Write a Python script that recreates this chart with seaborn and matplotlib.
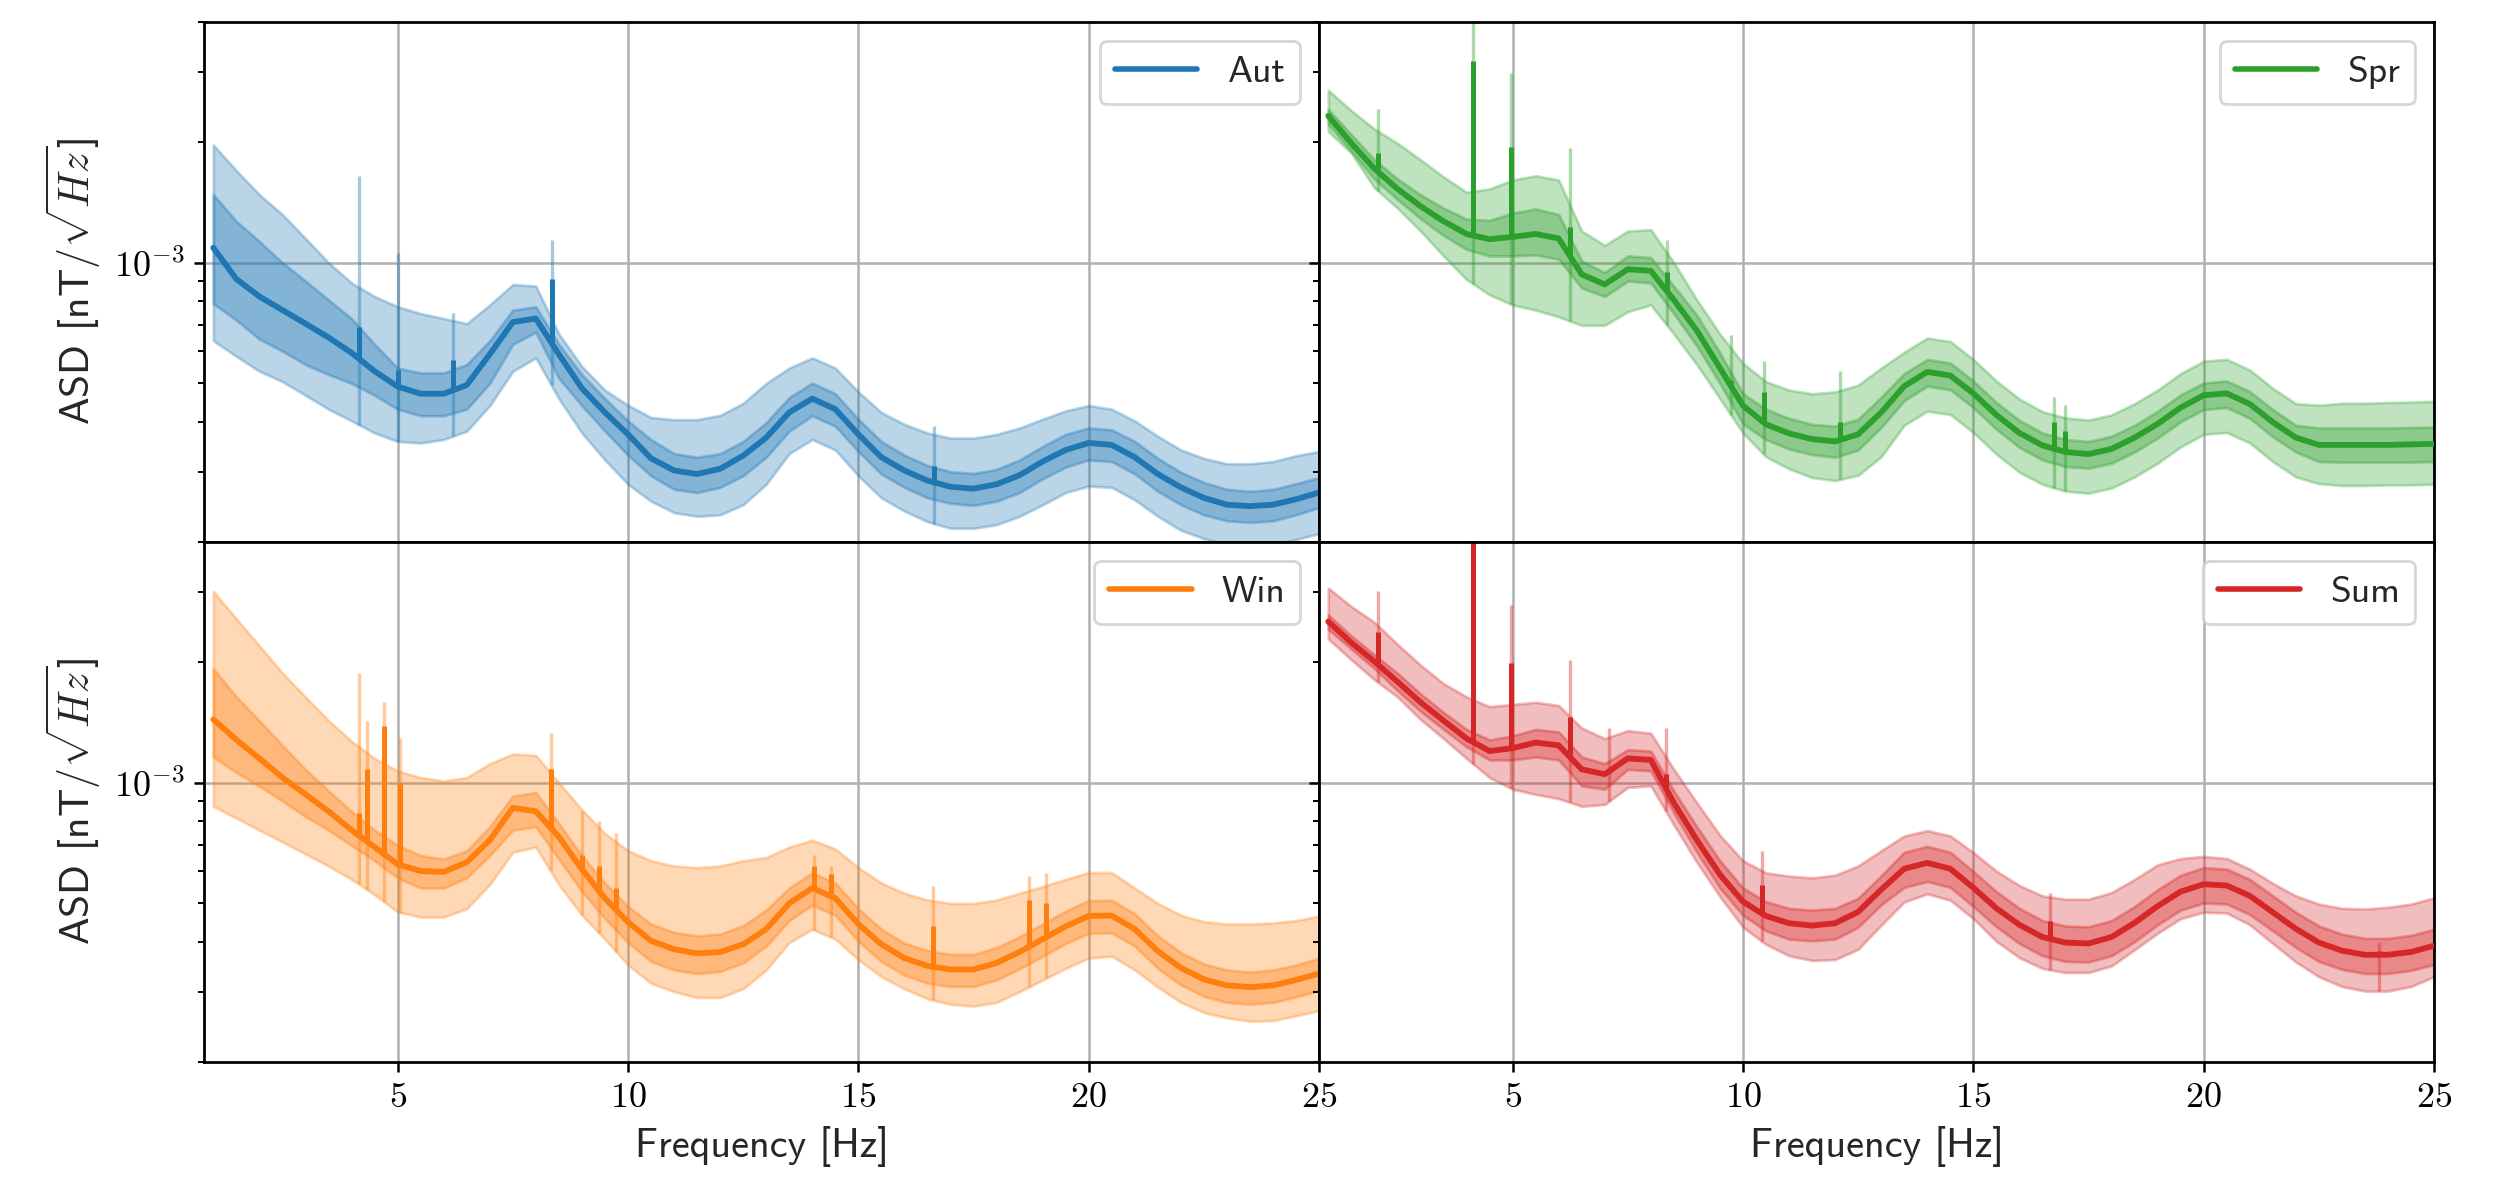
import numpy as np
import matplotlib
matplotlib.use("Agg")
import matplotlib.pyplot as plt
import seaborn as sns
from matplotlib.ticker import FixedLocator, LogLocator, NullFormatter, FuncFormatter

# ---------------- data (ASD values in units of 1e-3 nT/sqrt(Hz)) ----------------
UNIT = 1e-3
FREQ = [1.0, 1.5, 2.0, 2.5, 3.0, 3.5, 4.0, 4.5, 5.0,
        5.5, 6.0, 6.5, 7.0, 7.5, 8.0, 8.5, 9.0, 9.5, 10.0,
        10.5, 11.0, 11.5, 12.0, 12.5, 13.0, 13.5, 14.0, 14.5, 15.0,
        15.5, 16.0, 16.5, 17.0, 17.5, 18.0, 18.5, 19.0, 19.5, 20.0,
        20.5, 21.0, 21.5, 22.0, 22.5, 23.0, 23.5, 24.0, 24.5, 25.0]

# Autumn
AUT_MED = [1.09, 0.91, 0.823, 0.761, 0.704, 0.65, 0.595, 0.535, 0.49,
           0.47, 0.47, 0.494, 0.59, 0.71, 0.725, 0.59, 0.485, 0.422, 0.372,
           0.324, 0.302, 0.296, 0.305, 0.329, 0.365, 0.422, 0.457, 0.43, 0.372,
           0.326, 0.302, 0.285, 0.275, 0.272, 0.279, 0.294, 0.318, 0.34, 0.354,
           0.35, 0.326, 0.296, 0.274, 0.258, 0.248, 0.246, 0.248, 0.256, 0.266]
AUT_IU = [1.48, 1.27, 1.13, 1.0, 0.90, 0.807, 0.725, 0.625, 0.545,
          0.53, 0.53, 0.556, 0.638, 0.761, 0.776, 0.625, 0.525, 0.457, 0.402,
          0.361, 0.333, 0.326, 0.333, 0.357, 0.398, 0.46, 0.50, 0.47, 0.406,
          0.357, 0.33, 0.311, 0.30, 0.297, 0.304, 0.321, 0.347, 0.372, 0.386,
          0.382, 0.357, 0.324, 0.299, 0.282, 0.271, 0.268, 0.271, 0.28, 0.29]
AUT_IL = [0.79, 0.718, 0.644, 0.601, 0.556, 0.525, 0.499, 0.466, 0.43,
          0.414, 0.414, 0.43, 0.499, 0.625, 0.67, 0.514, 0.439, 0.379, 0.33,
          0.293, 0.271, 0.266, 0.274, 0.293, 0.326, 0.379, 0.414, 0.39, 0.337,
          0.296, 0.274, 0.258, 0.25, 0.247, 0.253, 0.266, 0.288, 0.308, 0.321,
          0.318, 0.296, 0.268, 0.248, 0.234, 0.226, 0.224, 0.226, 0.234, 0.244]
AUT_OU = [1.97, 1.70, 1.48, 1.32, 1.15, 1.0, 0.89, 0.823, 0.776,
          0.746, 0.725, 0.704, 0.784, 0.882, 0.874, 0.663, 0.55, 0.48, 0.44,
          0.41, 0.405, 0.405, 0.415, 0.445, 0.499, 0.545, 0.578, 0.545, 0.475,
          0.422, 0.394, 0.375, 0.364, 0.364, 0.372, 0.386, 0.406, 0.426, 0.439,
          0.43, 0.402, 0.368, 0.34, 0.324, 0.314, 0.314, 0.318, 0.329, 0.337]
AUT_OL = [0.638, 0.583, 0.535, 0.504, 0.466, 0.43, 0.402, 0.375, 0.357,
          0.354, 0.361, 0.379, 0.439, 0.535, 0.578, 0.457, 0.375, 0.321, 0.279,
          0.253, 0.237, 0.232, 0.234, 0.248, 0.279, 0.333, 0.361, 0.34, 0.293,
          0.258, 0.239, 0.225, 0.2165, 0.2165, 0.221, 0.232, 0.248, 0.266, 0.276,
          0.274, 0.255, 0.232, 0.214, 0.204, 0.197, 0.195, 0.197, 0.203, 0.21]
AUT_SPIKE_F = [4.16, 5.0, 6.2, 8.35, 16.65]
AUT_SPIKE_MED = [0.69, 0.54, 0.57, 0.908, 0.31]
AUT_SPIKE_BAND = [1.65, 1.06, 0.75, 1.14, 0.39]

# Spring
SPR_MED = [2.33, 1.99, 1.72, 1.53, 1.385, 1.27, 1.18, 1.145, 1.16,
           1.18, 1.15, 0.935, 0.882, 0.963, 0.954, 0.807, 0.676, 0.545, 0.439,
           0.394, 0.374, 0.362, 0.357, 0.372, 0.422, 0.491, 0.533, 0.522, 0.471,
           0.416, 0.375, 0.349, 0.336, 0.332, 0.342, 0.365, 0.395, 0.434, 0.466,
           0.471, 0.443, 0.399, 0.365, 0.35, 0.35, 0.35, 0.35, 0.351, 0.352]
SPR_IU = [2.42, 2.09, 1.81, 1.62, 1.48, 1.37, 1.285, 1.276, 1.33,
          1.364, 1.32, 1.01, 0.945, 1.04, 1.03, 0.873, 0.739, 0.595, 0.47,
          0.43, 0.408, 0.394, 0.39, 0.406, 0.461, 0.528, 0.573, 0.561, 0.506,
          0.447, 0.403, 0.375, 0.361, 0.357, 0.368, 0.392, 0.425, 0.467, 0.50,
          0.506, 0.476, 0.429, 0.392, 0.386, 0.386, 0.386, 0.386, 0.387, 0.388]
SPR_IL = [2.22, 1.90, 1.62, 1.44, 1.29, 1.17, 1.08, 1.04, 1.04,
          1.046, 1.02, 0.865, 0.823, 0.90, 0.89, 0.746, 0.619, 0.499, 0.395,
          0.361, 0.342, 0.331, 0.326, 0.34, 0.387, 0.452, 0.491, 0.481, 0.434,
          0.383, 0.345, 0.321, 0.309, 0.306, 0.315, 0.336, 0.364, 0.40, 0.429,
          0.434, 0.408, 0.367, 0.336, 0.318, 0.317, 0.317, 0.317, 0.317, 0.318]
SPR_OU = [2.70, 2.40, 2.16, 1.99, 1.81, 1.64, 1.50, 1.53, 1.61,
          1.65, 1.61, 1.20, 1.105, 1.20, 1.21, 1.0, 0.807, 0.663, 0.56,
          0.504, 0.48, 0.47, 0.475, 0.494, 0.545, 0.597, 0.648, 0.635, 0.573,
          0.506, 0.456, 0.424, 0.409, 0.404, 0.416, 0.444, 0.48, 0.528, 0.567,
          0.573, 0.539, 0.485, 0.444, 0.44, 0.445, 0.445, 0.447, 0.448, 0.45]
SPR_OL = [2.13, 1.88, 1.54, 1.37, 1.20, 1.04, 0.908, 0.831, 0.784,
          0.761, 0.732, 0.697, 0.697, 0.754, 0.784, 0.663, 0.556, 0.457, 0.375,
          0.327, 0.305, 0.29, 0.285, 0.294, 0.327, 0.392, 0.425, 0.417, 0.376,
          0.332, 0.299, 0.279, 0.268, 0.265, 0.273, 0.291, 0.315, 0.346, 0.372,
          0.376, 0.354, 0.318, 0.291, 0.28, 0.277, 0.277, 0.278, 0.278, 0.279]
SPR_SPIKE_F = [2.08, 4.15, 4.97, 6.24, 8.35, 9.75, 10.45, 12.1, 16.75, 17.0]
SPR_SPIKE_MED = [1.88, 3.19, 1.95, 1.23, 0.95, 0.51, 0.475, 0.40, 0.40, 0.38]
SPR_SPIKE_BAND = [2.42, 4.5, 2.98, 1.94, 1.14, 0.66, 0.567, 0.535, 0.46, 0.44]

# Winter
WIN_MED = [1.44, 1.28, 1.15, 1.03, 0.935, 0.848, 0.761, 0.69, 0.625,
           0.601, 0.598, 0.632, 0.718, 0.865, 0.848, 0.732, 0.607, 0.514, 0.448,
           0.402, 0.383, 0.374, 0.377, 0.394, 0.43, 0.499, 0.545, 0.514, 0.443,
           0.394, 0.364, 0.348, 0.341, 0.341, 0.354, 0.377, 0.406, 0.437, 0.464,
           0.465, 0.43, 0.379, 0.344, 0.322, 0.311, 0.308, 0.311, 0.321, 0.333]
WIN_IU = [1.93, 1.64, 1.43, 1.24, 1.08, 0.954, 0.848, 0.761, 0.697,
          0.657, 0.644, 0.676, 0.776, 0.926, 0.945, 0.79, 0.657, 0.561, 0.49,
          0.443, 0.422, 0.414, 0.418, 0.439, 0.48, 0.545, 0.595, 0.561, 0.484,
          0.43, 0.397, 0.38, 0.372, 0.372, 0.387, 0.412, 0.443, 0.477, 0.507,
          0.508, 0.47, 0.414, 0.376, 0.352, 0.34, 0.336, 0.34, 0.35, 0.364]
WIN_IL = [1.16, 1.06, 0.98, 0.90, 0.823, 0.761, 0.697, 0.638, 0.578,
          0.545, 0.545, 0.578, 0.657, 0.761, 0.776, 0.644, 0.535, 0.457, 0.398,
          0.357, 0.34, 0.333, 0.337, 0.354, 0.39, 0.452, 0.494, 0.466, 0.401,
          0.357, 0.33, 0.315, 0.309, 0.309, 0.321, 0.342, 0.368, 0.396, 0.42,
          0.421, 0.39, 0.343, 0.312, 0.292, 0.282, 0.279, 0.282, 0.291, 0.302]
WIN_OU = [3.01, 2.57, 2.20, 1.88, 1.64, 1.43, 1.27, 1.15, 1.07,
          1.03, 1.01, 1.03, 1.116, 1.18, 1.17, 1.0, 0.856, 0.746, 0.676,
          0.638, 0.619, 0.613, 0.619, 0.638, 0.65, 0.69, 0.718, 0.683, 0.613,
          0.561, 0.529, 0.509, 0.499, 0.499, 0.509, 0.529, 0.55, 0.573, 0.596,
          0.596, 0.545, 0.499, 0.466, 0.449, 0.443, 0.443, 0.446, 0.452, 0.464]
WIN_OL = [0.873, 0.815, 0.761, 0.711, 0.663, 0.619, 0.573, 0.525, 0.475,
          0.461, 0.461, 0.484, 0.556, 0.67, 0.69, 0.556, 0.466, 0.406, 0.35,
          0.315, 0.30, 0.29, 0.29, 0.305, 0.34, 0.398, 0.43, 0.406, 0.361,
          0.327, 0.305, 0.288, 0.279, 0.276, 0.282, 0.30, 0.321, 0.343, 0.364,
          0.368, 0.34, 0.308, 0.282, 0.266, 0.258, 0.253, 0.254, 0.261, 0.269]
WIN_SPIKE_F = [4.16, 4.34, 4.71, 5.06, 8.32, 9.0, 9.38, 9.75, 14.03, 14.4, 16.63, 18.7, 19.07]
WIN_SPIKE_MED = [0.84, 1.08, 1.39, 1.0, 1.08, 0.66, 0.62, 0.545, 0.62, 0.59, 0.439, 0.51, 0.50]
WIN_SPIKE_BAND = [1.88, 1.43, 1.59, 1.29, 1.33, 0.85, 0.80, 0.75, 0.66, 0.62, 0.55, 0.584, 0.596]

# Summer
SUM_MED = [2.53, 2.24, 2.01, 1.79, 1.59, 1.43, 1.29, 1.20, 1.22,
           1.26, 1.24, 1.08, 1.05, 1.15, 1.14, 0.89, 0.718, 0.589, 0.504,
           0.464, 0.445, 0.439, 0.445, 0.475, 0.54, 0.609, 0.63, 0.609, 0.546,
           0.485, 0.441, 0.411, 0.398, 0.396, 0.411, 0.446, 0.491, 0.534, 0.557,
           0.553, 0.521, 0.474, 0.431, 0.398, 0.38, 0.371, 0.371, 0.377, 0.391]
SUM_IU = [2.63, 2.33, 2.09, 1.88, 1.67, 1.50, 1.36, 1.28, 1.31,
          1.36, 1.34, 1.16, 1.116, 1.21, 1.20, 0.954, 0.776, 0.638, 0.545,
          0.504, 0.485, 0.48, 0.485, 0.514, 0.585, 0.67, 0.693, 0.67, 0.60,
          0.534, 0.485, 0.452, 0.438, 0.436, 0.452, 0.49, 0.54, 0.587, 0.613,
          0.608, 0.573, 0.521, 0.474, 0.438, 0.418, 0.408, 0.408, 0.415, 0.43]
SUM_IL = [2.42, 2.16, 1.93, 1.70, 1.51, 1.36, 1.23, 1.14, 1.14,
          1.16, 1.14, 0.982, 0.963, 1.08, 1.07, 0.84, 0.67, 0.545, 0.466,
          0.426, 0.406, 0.402, 0.406, 0.435, 0.495, 0.547, 0.566, 0.547, 0.49,
          0.436, 0.396, 0.369, 0.357, 0.356, 0.369, 0.40, 0.441, 0.48, 0.50,
          0.497, 0.468, 0.426, 0.387, 0.357, 0.341, 0.333, 0.333, 0.339, 0.351]
SUM_OU = [3.07, 2.76, 2.52, 2.22, 1.97, 1.77, 1.64, 1.55, 1.57,
          1.59, 1.56, 1.37, 1.29, 1.35, 1.33, 1.08, 0.891, 0.739, 0.638,
          0.595, 0.584, 0.578, 0.587, 0.619, 0.676, 0.736, 0.759, 0.736, 0.669,
          0.601, 0.553, 0.521, 0.511, 0.511, 0.531, 0.573, 0.623, 0.646, 0.654,
          0.646, 0.608, 0.56, 0.521, 0.497, 0.485, 0.483, 0.488, 0.497, 0.515]
SUM_OL = [2.29, 2.03, 1.81, 1.64, 1.44, 1.29, 1.15, 1.03, 0.963,
          0.935, 0.912, 0.873, 0.882, 0.973, 0.982, 0.784, 0.632, 0.519, 0.435,
          0.394, 0.369, 0.359, 0.361, 0.383, 0.44, 0.503, 0.527, 0.508, 0.457,
          0.401, 0.365, 0.343, 0.335, 0.335, 0.348, 0.382, 0.42, 0.457, 0.474,
          0.472, 0.441, 0.396, 0.356, 0.327, 0.309, 0.301, 0.301, 0.309, 0.327]
SUM_SPIKE_F = [2.08, 4.15, 4.96, 6.24, 7.1, 8.33, 10.42, 16.67, 23.8]
SUM_SPIKE_MED = [2.38, 5.0, 1.99, 1.46, 1.06, 1.05, 0.556, 0.45, 0.38]
SUM_SPIKE_BAND = [3.01, 5.0, 2.78, 2.03, 1.37, 1.37, 0.676, 0.53, 0.40]

SEASONS = ["Aut", "Spr", "Win", "Sum"]
COLORS = ["#1f77b4", "#2ca02c", "#ff7f0e", "#d62728"]
SERIES = {
    "Aut": (AUT_MED, AUT_IL, AUT_IU, AUT_OL, AUT_OU, AUT_SPIKE_F, AUT_SPIKE_MED, AUT_SPIKE_BAND),
    "Spr": (SPR_MED, SPR_IL, SPR_IU, SPR_OL, SPR_OU, SPR_SPIKE_F, SPR_SPIKE_MED, SPR_SPIKE_BAND),
    "Win": (WIN_MED, WIN_IL, WIN_IU, WIN_OL, WIN_OU, WIN_SPIKE_F, WIN_SPIKE_MED, WIN_SPIKE_BAND),
    "Sum": (SUM_MED, SUM_IL, SUM_IU, SUM_OL, SUM_OU, SUM_SPIKE_F, SUM_SPIKE_MED, SUM_SPIKE_BAND),
}

# ---------------- style ----------------
sns.set_style("white")
plt.rcParams.update({
    "font.family": ["cmss10", "DejaVu Sans"],
    "mathtext.fontset": "cm",
    "axes.unicode_minus": False,
    "axes.edgecolor": "black",
    "axes.linewidth": 1.0,
    "xtick.color": "black",
    "ytick.color": "black",
})

fig, axes = plt.subplots(2, 2, figsize=(12.49, 5.895), dpi=200, sharex=True, sharey=True)
fig.subplots_adjust(left=0.0817, right=0.9744, top=0.9813, bottom=0.0992, wspace=0, hspace=0)

freq = np.array(FREQ)
for ax, name, color in zip(axes.flat, SEASONS, COLORS):
    med, il, iu, ol, ou, sf, smed, sband = [np.array(a, dtype=float) for a in SERIES[name]]
    ax.set_yscale("log")
    ax.fill_between(freq, ol * UNIT, ou * UNIT, color=color, alpha=0.3, lw=1.0, zorder=1)
    ax.fill_between(freq, il * UNIT, iu * UNIT, color=color, alpha=0.35, lw=1.0, zorder=1.1)
    # spikes (band and median)
    band_base = np.interp(sf, freq, ol) * UNIT
    ax.vlines(sf, band_base, sband * UNIT, color=color, alpha=0.4, lw=1.2, zorder=1.2)
    med_base = np.interp(sf, freq, med) * UNIT
    ax.vlines(sf, med_base, smed * UNIT, color=color, lw=1.8, zorder=2.5)
    sns.lineplot(x=freq, y=med * UNIT, ax=ax, color=color, lw=2.1, label=name, zorder=3)

    ax.set_xlim(0.8, 25)
    ax.set_ylim(2.0e-4, 4.0e-3)
    ax.grid(True, which="major", color="#b0b0b0", lw=0.9)
    ax.xaxis.set_major_locator(FixedLocator([5, 10, 15, 20, 25]))
    ax.xaxis.set_major_formatter(FuncFormatter(lambda v, p: r"$%g$" % v))
    ax.yaxis.set_major_locator(LogLocator(base=10))
    ax.yaxis.set_major_formatter(FuncFormatter(lambda v, p: r"$10^{%d}$" % int(round(np.log10(v)))))
    ax.yaxis.set_minor_locator(LogLocator(base=10, subs=np.arange(2, 10)))
    ax.yaxis.set_minor_formatter(NullFormatter())
    ax.tick_params(which="major", direction="out", length=3.5, width=0.9, labelsize=13,
                   left=True, bottom=True)
    ax.tick_params(which="minor", direction="out", length=2, width=0.7, left=True)
    ax.set_xlabel("")
    ax.set_ylabel("")
    leg = ax.legend(loc="upper right", fontsize=13.5, handlelength=2.2, frameon=True,
                    fancybox=True, framealpha=0.8, edgecolor="#cccccc")
    for line in leg.get_lines():
        line.set_linewidth(2.0)
    for s in ax.spines.values():
        s.set_visible(True)
        s.set_color("black")
        s.set_linewidth(1.0)

for ax in axes[1, :]:
    ax.set_xlabel("Frequency [Hz]", fontsize=14.5)
for ax in axes[:, 0]:
    ax.set_ylabel(r"ASD [nT$/\sqrt{Hz}$]", fontsize=15)

fig.savefig("out.png", dpi=200)
